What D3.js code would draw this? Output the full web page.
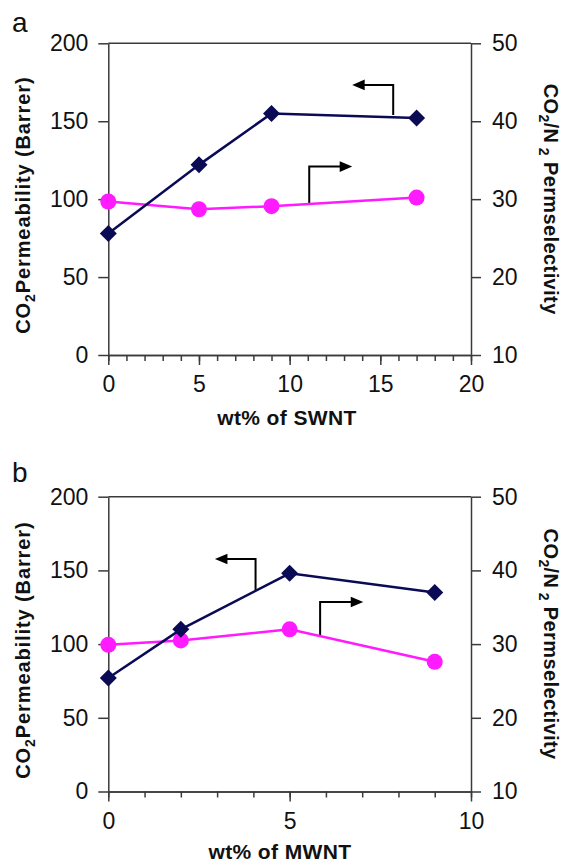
<!DOCTYPE html>
<html><head><meta charset="utf-8">
<script src="https://cdn.jsdelivr.net/npm/d3@7"></script>
<style>html,body{margin:0;padding:0;background:#fff;}svg{display:block;}</style>
</head><body>
<svg id="c" width="563" height="863"></svg>
<script>
// ---- data ----
const swntWt   = [0, 5, 9, 17];
const swntPerm = [78, 122, 155, 152];
const swntSel  = [29.7, 28.7, 29.1, 30.2];
const mwntWt   = [0, 2, 5, 9];
const mwntPerm = [77, 110, 148, 135];
const mwntSel  = [29.9, 30.5, 32.0, 27.6];
const permTicks = [0, 50, 100, 150, 200];
const selTicks  = [10, 20, 30, 40, 50];
const swntTicks = [0, 5, 10, 15, 20];
const mwntTicks = [0, 5, 10];
// arrow annotations (data units): vertical from y0 to y1 at x0, then horizontal to x1
const swntArrows = [{x0: 15.71, y0: 154, y1: 173.3, x1: 13.45}, {x0: 11.08, y0: 97.4, y1: 120.9, x1: 13.45}];
const mwntArrows = [{x0: 4.06, y0: 136.6, y1: 157.7, x1: 2.94}, {x0: 5.84, y0: 104.9, y1: 128.6, x1: 7.03}];

const svg = d3.select("#c");
const FONT = "'Liberation Sans', Arial, sans-serif";
const AX = "#3a3a3a";
const NAVY = "#0a0a55";
const PINK = "#ff1aff";

function panel(o) {
  const g = svg.append("g");
  const x = d3.scaleLinear().domain([0, o.xMax]).range([108.3, 471]);
  const yL = d3.scaleLinear().domain([0, 200]).range([o.bot, o.top]);
  const yR = d3.scaleLinear().domain([10, 50]).range([o.bot, o.top]);

  // top border
  g.append("line").attr("x1", x(0)).attr("x2", x(o.xMax)).attr("y1", o.top).attr("y2", o.top)
    .attr("stroke", AX).attr("stroke-width", 1.5);

  const style = sel => {
    sel.selectAll("path").attr("stroke", AX).attr("stroke-width", 1.5);
    sel.selectAll("line").attr("stroke", AX).attr("stroke-width", 1.5);
    sel.selectAll("text").attr("font-family", FONT).attr("font-size", 23).attr("fill", "#111");
  };
  // x minor
  g.append("g").attr("transform", `translate(0,${o.bot})`)
    .call(d3.axisBottom(x).tickValues(d3.range(0, o.xMax + 1)).tickSize(6).tickSizeOuter(0).tickFormat(""))
    .call(style);
  // x major
  g.append("g").attr("transform", `translate(0,${o.bot})`)
    .call(d3.axisBottom(x).tickValues(o.xTicks).tickSize(10).tickSizeOuter(0).tickPadding(11).tickFormat(d3.format("d")))
    .call(style);
  // left
  g.append("g").attr("transform", `translate(${x(0)},0)`)
    .call(d3.axisLeft(yL).tickValues(permTicks).tickSize(10).tickSizeOuter(0).tickPadding(10))
    .call(style);
  // right
  g.append("g").attr("transform", `translate(${x(o.xMax)},0)`)
    .call(d3.axisRight(yR).tickValues(selTicks).tickSize(10).tickSizeOuter(0).tickPadding(11))
    .call(style);

  // arrows
  o.arrows.forEach(a => {
    const xv = x(a.x0), yb = yL(a.y0), yt = yL(a.y1), xt = x(a.x1);
    const dir = Math.sign(xt - xv);
    g.append("path").attr("d", `M${xv},${yb}V${yt}H${xt - dir * 9}`)
      .attr("fill", "none").attr("stroke", "#000").attr("stroke-width", 2);
    g.append("path").attr("d", `M${xt},${yt}L${xt - dir * 12.5},${yt - 5.3}L${xt - dir * 12.5},${yt + 5.3}Z`)
      .attr("fill", "#000");
  });

  const permPts = o.wt.map((w, i) => [x(w), yL(o.perm[i])]);
  const selPts = o.wt.map((w, i) => [x(w), yR(o.sel[i])]);
  g.append("path").attr("d", d3.line()(selPts)).attr("fill", "none").attr("stroke", PINK).attr("stroke-width", 2.5);
  g.selectAll(".c").data(selPts).join("circle").attr("cx", d => d[0]).attr("cy", d => d[1]).attr("r", 8).attr("fill", PINK);
  g.append("path").attr("d", d3.line()(permPts)).attr("fill", "none").attr("stroke", NAVY).attr("stroke-width", 2.5);
  g.selectAll(".d").data(permPts).join("path")
    .attr("d", d => `M${d[0]},${d[1] - 8.5}L${d[0] + 8.5},${d[1]}L${d[0]},${d[1] + 8.5}L${d[0] - 8.5},${d[1]}Z`)
    .attr("fill", NAVY);

  // panel letter
  g.append("text").attr("x", 12).attr("y", o.letterY).attr("font-family", FONT).attr("font-size", 28)
    .attr("fill", "#111").text(o.letter);
  // x title
  g.append("text").attr("x", o.xTitleX).attr("y", o.xTitleY).attr("text-anchor", "middle")
    .attr("font-family", FONT).attr("font-size", 21).attr("font-weight", "bold").attr("letter-spacing", 0.4)
    .attr("fill", "#111").text(o.xTitle);
  // left title
  const lt = g.append("text").attr("transform", `translate(30,${(o.top + o.bot) / 2 + 6}) rotate(-90)`)
    .attr("text-anchor", "middle").attr("font-family", FONT).attr("font-size", 20).attr("font-weight", "bold")
    .attr("letter-spacing", 0.9).attr("fill", "#111");
  lt.append("tspan").text("CO");
  lt.append("tspan").attr("font-size", 14).attr("dy", 5).text("2");
  lt.append("tspan").attr("dy", -5).text("Permeability (Barrer)");
  // right title
  const rt = g.append("text").attr("transform", `translate(544,${(o.top + o.bot) / 2}) rotate(90)`)
    .attr("text-anchor", "middle").attr("font-family", FONT).attr("font-size", 20).attr("font-weight", "bold")
    .attr("letter-spacing", 0.4).attr("fill", "#111");
  rt.append("tspan").text("CO");
  rt.append("tspan").attr("font-size", 14).attr("dy", 5).text("2");
  rt.append("tspan").attr("dy", -5).text("/N");
  rt.append("tspan").attr("font-size", 14).attr("dy", 5).text(" 2");
  rt.append("tspan").attr("dy", -5).text(" Permselectivity");
}

panel({top: 43.3, bot: 355, xMax: 20, xTicks: swntTicks, wt: swntWt, perm: swntPerm, sel: swntSel,
       arrows: swntArrows, letter: "a", letterY: 32, xTitle: "wt% of SWNT", xTitleX: 287, xTitleY: 425});
panel({top: 496.7, bot: 791.5, xMax: 10, xTicks: mwntTicks, wt: mwntWt, perm: mwntPerm, sel: mwntSel,
       arrows: mwntArrows, letter: "b", letterY: 482, xTitle: "wt% of MWNT", xTitleX: 280, xTitleY: 859});
</script>
</body></html>
